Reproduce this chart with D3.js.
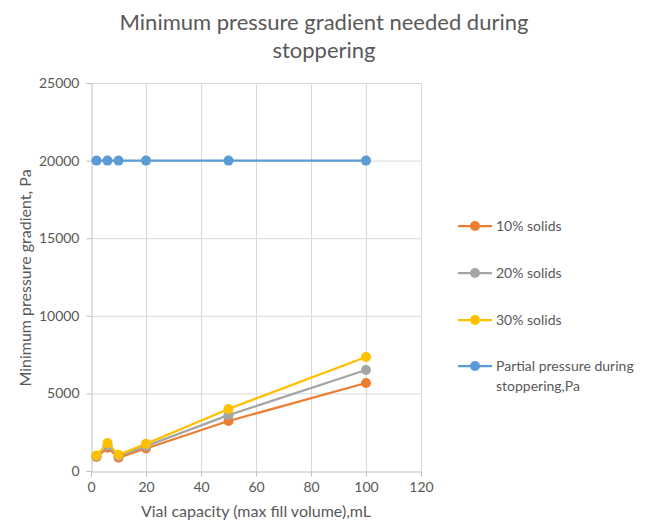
<!DOCTYPE html>
<html>
<head>
<meta charset="utf-8">
<script src="https://cdn.jsdelivr.net/npm/d3@7"></script>
<style>
  body { margin: 0; background: #fff; }
  text { font-family: Lato, "Open Sans", sans-serif; }
</style>
</head>
<body>
<div id="chart"></div>
<script>
// vial capacities, mL
const capacities = [2, 6, 10, 20, 50, 100];

const solids10 = [900, 1500, 850, 1450, 3220, 5670];
const solids20 = [950, 1650, 950, 1600, 3600, 6510];
const solids30 = [1000, 1800, 1050, 1750, 4000, 7350];
const partialPressure = [20000, 20000, 20000, 20000, 20000, 20000];

const seriesNames = ["10% solids", "20% solids", "30% solids", "Partial pressure during stoppering,Pa"];
const xTicks = [0, 20, 40, 60, 80, 100, 120];
const yTicks = [0, 5000, 10000, 15000, 20000, 25000];

const settings = {
  width: 648,
  height: 526,
  left: 91,
  right: 421,
  top: 83,
  bottom: 471,
  markerRadius: 5,
  lineWidth: 2.25,
};

const colors = ["#ed7d31", "#a5a5a5", "#ffc000", "#5b9bd5"];
const allSeries = [solids10, solids20, solids30, partialPressure];

function drawChart() {
  const svg = d3.select("#chart")
    .append("svg")
    .attr("width", settings.width)
    .attr("height", settings.height);

  const x = d3.scaleLinear().domain([0, 120]).range([settings.left, settings.right]);
  const y = d3.scaleLinear().domain([0, 25000]).range([settings.bottom, settings.top]);

  // grid lines
  const grid = svg.append("g").attr("stroke", "#d9d9d9").attr("stroke-width", 1);
  grid.selectAll(".vgrid")
    .data(xTicks.slice(1))
    .join("line")
    .attr("x1", d => x(d) + 0.5).attr("x2", d => x(d) + 0.5)
    .attr("y1", settings.top).attr("y2", settings.bottom);
  grid.selectAll(".hgrid")
    .data(yTicks.slice(1))
    .join("line")
    .attr("x1", settings.left).attr("x2", settings.right)
    .attr("y1", d => y(d) + 0.5).attr("y2", d => y(d) + 0.5);

  // axes
  const xAxis = svg.append("g")
    .attr("transform", `translate(0,${settings.bottom + 0.5})`)
    .call(d3.axisBottom(x).tickValues(xTicks).tickSize(5).tickPadding(6));
  const yAxis = svg.append("g")
    .attr("transform", `translate(${settings.left + 0.5},0)`)
    .call(d3.axisLeft(y).tickValues(yTicks).tickFormat(d3.format("d")).tickSize(5).tickPadding(7));

  [xAxis, yAxis].forEach(a => {
    a.select(".domain").attr("stroke", "#bfbfbf");
    a.selectAll(".tick line").attr("stroke", "#bfbfbf");
    a.selectAll(".tick text")
      .attr("fill", "#595959")
      .style("font-size", "14px")
      .style("font-family", "Lato, 'Open Sans', sans-serif");
  });

  // series
  const line = d3.line()
    .x((d, i) => x(capacities[i]))
    .y(d => y(d));

  allSeries.forEach((values, s) => {
    const g = svg.append("g");
    g.append("path")
      .datum(values)
      .attr("d", line)
      .attr("fill", "none")
      .attr("stroke", colors[s])
      .attr("stroke-width", settings.lineWidth);
    g.selectAll("circle")
      .data(values)
      .join("circle")
      .attr("cx", (d, i) => x(capacities[i]))
      .attr("cy", d => y(d))
      .attr("r", settings.markerRadius)
      .attr("fill", colors[s]);
  });

  // title
  const title = svg.append("text")
    .attr("text-anchor", "middle")
    .attr("fill", "#595959")
    .style("font-size", "22px");
  title.append("tspan").attr("x", 324).attr("y", 30).text("Minimum pressure gradient needed during");
  title.append("tspan").attr("x", 324).attr("y", 58).text("stoppering");

  // axis titles
  svg.append("text")
    .attr("text-anchor", "middle")
    .attr("fill", "#595959")
    .style("font-size", "16px")
    .attr("x", 256).attr("y", 517)
    .text("Vial capacity (max fill volume),mL");

  svg.append("text")
    .attr("text-anchor", "middle")
    .attr("fill", "#595959")
    .style("font-size", "16px")
    .attr("transform", "translate(31,278) rotate(-90)")
    .text("Minimum pressure gradient, Pa");

  // legend
  const legendY = [226, 273, 320, 366];
  const legend = svg.append("g");
  seriesNames.forEach((name, s) => {
    const ly = legendY[s];
    legend.append("line")
      .attr("x1", 458).attr("x2", 492)
      .attr("y1", ly).attr("y2", ly)
      .attr("stroke", colors[s])
      .attr("stroke-width", settings.lineWidth);
    legend.append("circle")
      .attr("cx", 475).attr("cy", ly)
      .attr("r", settings.markerRadius)
      .attr("fill", colors[s]);
    const t = legend.append("text")
      .attr("fill", "#595959")
      .style("font-size", "14px")
      .attr("y", ly + 5);
    if (s === 3) {
      t.append("tspan").attr("x", 496).text("Partial pressure during");
      t.append("tspan").attr("x", 496).attr("dy", 20).text("stoppering,Pa");
    } else {
      t.append("tspan").attr("x", 496).text(name);
    }
  });
}

drawChart();
</script>
</body>
</html>
